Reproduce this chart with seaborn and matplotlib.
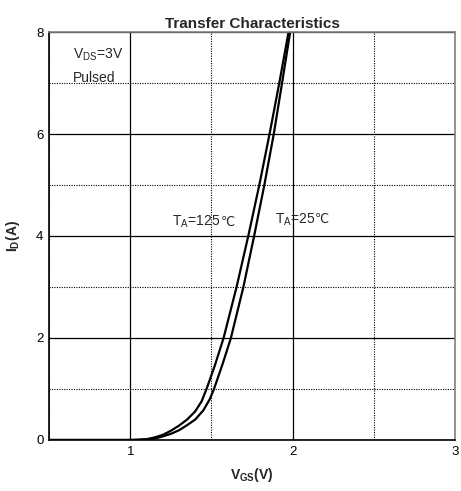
import matplotlib
matplotlib.use("Agg")
import matplotlib.pyplot as plt
import seaborn as sns
import pandas as pd
from matplotlib.ticker import MultipleLocator

sns.set_theme(style="white")
plt.rcParams['font.family'] = ['Liberation Sans', 'DejaVu Sans']
plt.rcParams['mathtext.fontset'] = 'custom'
plt.rcParams['mathtext.rm'] = 'Liberation Sans'
plt.rcParams['mathtext.bf'] = 'Liberation Sans:bold'

# data
vgs_125 = [0.5, 1.0, 1.1, 1.15, 1.2, 1.25, 1.3, 1.35, 1.4, 1.44, 1.47, 1.52, 1.575, 1.655, 1.727, 1.795, 1.858, 1.918, 1.975]
id_125  = [0.0, 0.0, 0.015, 0.05, 0.1, 0.18, 0.28, 0.4, 0.56, 0.76, 1.0, 1.45, 2.0, 3.0, 4.0, 5.0, 6.0, 7.0, 8.0]
vgs_25  = [0.5, 1.05, 1.15, 1.2, 1.25, 1.3, 1.35, 1.4, 1.45, 1.49, 1.516, 1.57, 1.62, 1.697, 1.763, 1.826, 1.884, 1.935, 1.985]
id_25   = [0.0, 0.0, 0.025, 0.07, 0.12, 0.19, 0.29, 0.4, 0.58, 0.8, 1.0, 1.5, 2.0, 3.0, 4.0, 5.0, 6.0, 7.0, 8.0]

df = pd.concat([
    pd.DataFrame({"VGS": vgs_125, "ID": id_125, "T": "125"}),
    pd.DataFrame({"VGS": vgs_25, "ID": id_25, "T": "25"}),
])

fig = plt.figure(figsize=(4.61, 4.91), dpi=100)
ax = fig.add_axes([0.1063, 0.1039, 0.987 - 0.1063, 0.9348 - 0.1039])

sns.lineplot(data=df, x="VGS", y="ID", units="T", estimator=None, sort=False,
             color="black", linewidth=1.6, ax=ax, legend=False)

ax.set_xlim(0.5, 3)
ax.set_ylim(0, 8)
ax.xaxis.set_major_locator(MultipleLocator(1))
ax.xaxis.set_minor_locator(MultipleLocator(0.5))
ax.yaxis.set_major_locator(MultipleLocator(2))
ax.yaxis.set_minor_locator(MultipleLocator(1))
ax.grid(which='major', color='black', linewidth=0.9, linestyle='-')
ax.grid(which='minor', color='black', linewidth=0.8, linestyle=(0, (1, 1.2)))
ax.set_axisbelow(True)
for gl in ax.xaxis.get_gridlines():
    if abs(gl.get_xdata()[0] - 1.0) < 1e-6:
        gl.set_color('#808080')
ax.tick_params(which='both', length=0, labelsize=9.5, colors='black', pad=4)

for s in ['left', 'bottom']:
    ax.spines[s].set_color('black')
    ax.spines[s].set_linewidth(1.2)
for s in ['top', 'right']:
    ax.spines[s].set_color('#808080')
    ax.spines[s].set_linewidth(1.2)

ax.set_title("Transfer Characteristics", fontsize=11, fontweight='bold', pad=3)
ax.set_xlabel(r"$\mathbf{V_{GS}}$(V)", fontsize=10, fontweight='bold', labelpad=6)
ax.set_ylabel(r"$\mathbf{I_{D}}$(A)", fontsize=10, fontweight='bold', labelpad=10)

ax.text(0.645, 7.55, r"V$_{\mathrm{DS}}$=3V", fontsize=10, ha='left', va='center')
ax.text(0.645, 7.1, "Pulsed", fontsize=10, ha='left', va='center')

t1 = ax.text(1.26, 4.27, r"T$_{\mathrm{A}}$=125", fontsize=10, ha='left', va='center')
ax.annotate("℃", xy=(1, 0.5), xycoords=t1, ha='left', va='center', fontsize=9,
            family='DejaVu Sans')
t2 = ax.text(1.89, 4.32, r"T$_{\mathrm{A}}$=25", fontsize=10, ha='left', va='center')
ax.annotate("℃", xy=(1, 0.5), xycoords=t2, ha='left', va='center', fontsize=9,
            family='DejaVu Sans')

fig.savefig("out.png", dpi=100)
